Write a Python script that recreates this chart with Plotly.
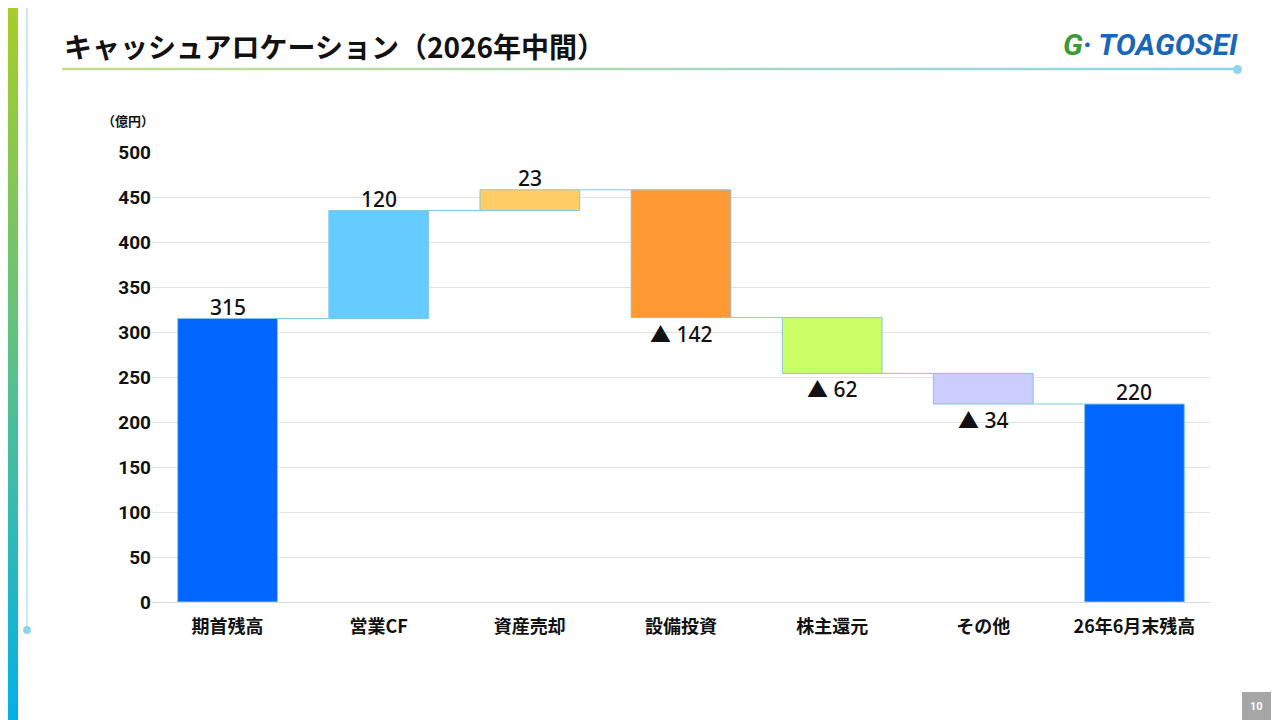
import plotly.graph_objects as go
import base64

categories = ["期首残高", "営業CF", "資産売却", "設備投資", "株主還元", "その他", "26年6月末残高"]
changes = [315, 120, 23, -142, -62, -34, 220]
is_total = [True, False, False, False, False, False, True]
colors = ["#0066FF", "#66CCFF", "#FFCC66", "#FF9933", "#CCFF66", "#CCCCFF", "#0066FF"]
labels = ["315", "120", "23", "▲ 142", "▲ 62", "▲ 34", "220"]
y_ticks = [0, 50, 100, 150, 200, 250, 300, 350, 400, 450, 500]

OFF = 8  # page body margin
L, T, PW, PH = 152 - OFF, 152 - OFF, 1058, 450
def px(x): return (x - OFF - L) / PW
def py(y): return 1 - (y - OFF - T) / PH

bases, heights, tops, running = [], [], [], 0
for c, t in zip(changes, is_total):
    if t:
        bases.append(0); heights.append(c); running = c
    else:
        bases.append(running if c >= 0 else running + c); heights.append(abs(c))
        running += c
    tops.append(running)

fig = go.Figure()
fig.add_trace(go.Bar(x=categories, y=heights, base=bases, width=0.66,
                     marker=dict(color=colors, line=dict(color="#7FC8E8", width=1)),
                     hoverinfo="skip"))
for i in range(len(categories) - 1):
    fig.add_trace(go.Scatter(x=[i + 0.33, i + 1 - 0.33], y=[tops[i], tops[i]],
                             mode="lines", line=dict(color="#7FC8E8", width=1),
                             xaxis="x2", hoverinfo="skip"))

ann = []
for i, (c, lab) in enumerate(zip(changes, labels)):
    y = bases[i] + heights[i] if c >= 0 else bases[i]
    ann.append(dict(x=categories[i], y=y, text=lab, showarrow=False,
                    yanchor="bottom" if c >= 0 else "top", yshift=-4 if c >= 0 else 0,
                    font=dict(family="Noto Sans, Noto Sans CJK JP", size=21, color="#111", weight=500)))

stripe = ('<svg xmlns="http://www.w3.org/2000/svg" width="16" height="720"><defs><linearGradient id="g" x1="0" y1="0" x2="0" y2="1">'
          '<stop offset="0" stop-color="#A8CC2A"/><stop offset="0.5" stop-color="#5CC08A"/><stop offset="1" stop-color="#00B0E8"/></linearGradient></defs>'
          '<rect width="16" height="720" fill="url(#g)"/></svg>')
uline = ('<svg xmlns="http://www.w3.org/2000/svg" width="1180" height="4" preserveAspectRatio="none"><defs><linearGradient id="h" x1="0" y1="0" x2="1" y2="0">'
         '<stop offset="0" stop-color="#C8DC8A"/><stop offset="1" stop-color="#8FD4EE"/></linearGradient></defs>'
         '<rect width="1180" height="4" fill="url(#h)"/></svg>')
def uri(s):
    return "data:image/svg+xml;base64," + base64.b64encode(s.encode()).decode()

ann += [
    dict(text="キャッシュアロケーション（2026年中間）", xref="paper", yref="paper",
         x=px(62), y=py(46), xanchor="left", yanchor="middle", showarrow=False,
         font=dict(size=28, family="Noto Sans CJK JP", weight="bold", color="#111")),
    dict(text="<span style='color:#3A9A3A'>G</span>· TOAGOSEI", xref="paper", yref="paper",
         x=px(1240), y=py(45), xanchor="right", yanchor="middle", showarrow=False,
         font=dict(size=30, family="Roboto", weight="bold", style="italic", color="#1A66B8")),
    dict(text="（億円）", xref="paper", yref="paper", x=px(100), y=py(121),
         xanchor="left", yanchor="middle", showarrow=False,
         font=dict(size=13, family="Noto Sans CJK JP", weight="bold")),
    dict(text="10", xref="paper", yref="paper", x=px(1256), y=py(706),
         xanchor="center", yanchor="middle", showarrow=False,
         font=dict(size=11, family="Roboto", weight="bold", color="white")),
]

fig.update_layout(
    width=1280, height=720, showlegend=False,
    paper_bgcolor="white", plot_bgcolor="white",
    margin=dict(l=L, r=1280 - L - PW, t=T, b=720 - T - PH),
    font=dict(family="Noto Sans CJK JP", color="#111"),
    xaxis=dict(type="category", tickfont=dict(size=18, family="Noto Sans CJK JP", weight="bold"),
               showline=True, linecolor="#D9D9D9", ticks="", range=[-0.5, 6.5], ticklabelstandoff=8),
    xaxis2=dict(overlaying="x", range=[-0.5, 6.5], visible=False),
    yaxis=dict(range=[0, 500], tickvals=y_ticks, gridcolor="#E3E3E3",
               tickfont=dict(size=19, family="Roboto", weight="bold"), ticks="", zeroline=False),
    images=[
        dict(source=uri(stripe), xref="paper", yref="paper", x=px(8), y=py(8),
             sizex=10 / PW, sizey=720 / PH, sizing="stretch", xanchor="left", yanchor="top", layer="above"),
        dict(source=uri(uline), xref="paper", yref="paper", x=px(62), y=py(69),
             sizex=1175 / PW, sizey=3 / PH, sizing="stretch", xanchor="left", yanchor="middle", layer="above"),
    ],
    shapes=[
        dict(type="line", xref="paper", yref="paper", x0=px(27), x1=px(27),
             y0=py(630), y1=py(8), line=dict(color="#8FD4EE", width=1)),
        dict(type="circle", xref="paper", yref="paper", x0=px(23), x1=px(31),
             y0=py(634), y1=py(626), fillcolor="#8FD4EE", line=dict(width=0)),
        dict(type="circle", xref="paper", yref="paper", x0=px(1233), x1=px(1242),
             y0=py(74), y1=py(65), fillcolor="#8FD4EE", line=dict(width=0)),
        dict(type="rect", xref="paper", yref="paper", x0=px(1242), x1=px(1271),
             y0=py(720), y1=py(692), fillcolor="#A6A6A6", line=dict(width=0)),
    ],
    annotations=ann,
)
fig.write_html("out.html")
